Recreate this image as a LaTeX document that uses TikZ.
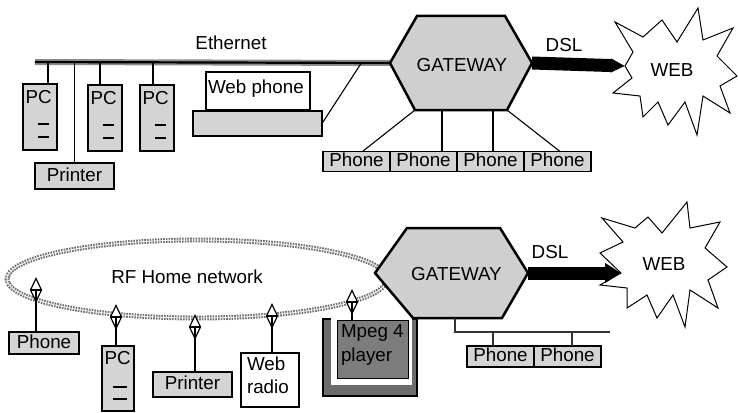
\documentclass[tikz,border=0pt]{standalone}
\usepackage{fontspec}
\setmainfont{Liberation Sans}
\usetikzlibrary{arrows.meta,shapes.geometric}
\definecolor{boxgrey}{HTML}{D4D4D4}
\definecolor{gwgrey}{HTML}{CFCFCF}
\definecolor{mpgrey}{HTML}{7C7C7C}
\definecolor{ugrey}{HTML}{6C6C6C}
\definecolor{dotgrey}{HTML}{6E6E6E}
\begin{document}
\begin{tikzpicture}[x=1pt,y=-1pt,
  font=\fontsize{18.8}{23.5}\selectfont,
  txt/.style={inner sep=0pt,outer sep=0pt},
  dev/.style={draw=black,line width=1.2pt,fill=boxgrey,inner sep=0pt,outer sep=0pt,text height=13pt,text depth=3pt},
  whitedev/.style={dev,fill=white},
  gwbox/.style={inner sep=0pt,outer sep=0pt},
  gwshape/.style={draw=black,line width=2.5pt,fill=gwgrey,line join=miter},
  wire/.style={draw=black,line width=1.1pt},
  busline/.style={draw=black!80,line width=1.4pt},
  cloud/.style={draw=black,line width=1pt,fill=white,line join=miter},
  antenna/.style={diamond,draw=black,line width=1.2pt,fill=white,inner sep=0pt,outer sep=0pt,minimum width=11pt,minimum height=23pt},
  dashbar/.style={draw=black,line width=1.5pt},
  dslbar/.style={draw=black,line width=13pt}
]
\useasboundingbox (0,0) rectangle (738,412);

% ================= TOP: Ethernet network =================
\coordinate (eth0) at (35,62);
\node[gwbox,minimum width=142,minimum height=94] (gw1) at (461,63) {};

% Ethernet bar
\draw[line width=6pt,black!45] (eth0) -- (gw1.west);
\draw[line width=2.2pt,black] (eth0) -- (gw1.west);
\node[txt,anchor=base] at (231,50) {Ethernet};

% PCs
\node[dev,minimum width=34,minimum height=66] (pc1) at (40,117) {};
\node[dev,minimum width=34,minimum height=66] (pc2) at (105,118) {};
\node[dev,minimum width=34,minimum height=66] (pc3) at (157,118) {};
\foreach \p in {pc1,pc2,pc3}{
  \node[txt,anchor=base west] at ([shift={(2.5,19.5)}]\p.north west) {PC};
  \draw[dashbar] ([shift={(-2,40)}]\p.north) -- ([shift={(9,40)}]\p.north);
  \draw[dashbar] ([shift={(-2,53)}]\p.north) -- ([shift={(9,53)}]\p.north);
}
\coordinate (d1) at ([shift={(8,0)}]pc1.north);
\coordinate (d2) at ([shift={(-5,0)}]pc2.north);
\coordinate (d3) at ([shift={(-4,0)}]pc3.north);
\draw[wire] (d1) -- (d1 |- eth0);
\draw[wire] (d2) -- (d2 |- eth0);
\draw[wire] (d3) -- (d3 |- eth0);

% Printer
\node[dev,minimum width=79,minimum height=26] (prn1) at (74.5,176) {Printer};
\draw[wire] (prn1.north) -- (prn1.north |- eth0);

% Web phone
\node[dev,minimum width=129,minimum height=25] (wpb) at (257.5,123.5) {};
\node[whitedev,minimum width=104,minimum height=38] (wph) at (258,91) {};
\node[txt,anchor=base west] at ([shift={(2,21)}]wph.north west) {Web phone};
\coordinate (wpj) at (362,62);
\draw[wire] (wpb.east) -- (wpj);

% Phones (top)
\node[dev,minimum width=67,minimum height=20] (ph1) at (356.5,161.5) {Phone};
\node[dev,minimum width=67,minimum height=20] (ph2) at (423.5,161.5) {Phone};
\node[dev,minimum width=67,minimum height=20] (ph3) at (490.5,161.5) {Phone};
\node[dev,minimum width=67,minimum height=20] (ph4) at (557.5,161.5) {Phone};
\coordinate (p2t) at ([shift={(18.5,0)}]ph2.north);
\coordinate (p3t) at ([shift={(2.5,0)}]ph3.north);
\draw[wire] ([shift={(25,0)}]gw1.south west) -- ([shift={(6,0)}]ph1.north);
\draw[wire] (p2t) -- (p2t |- gw1.south);
\draw[wire] (p3t) -- (p3t |- gw1.south);
\draw[wire] ([shift={(-25,0)}]gw1.south east) -- ([shift={(2.5,0)}]ph4.north);

% Gateway (top)
\path[gwshape] (gw1.west) -- ([shift={(27,0)}]gw1.north west) -- ([shift={(-27,0)}]gw1.north east)
  -- (gw1.east) -- ([shift={(-25,0)}]gw1.south east) -- ([shift={(25,0)}]gw1.south west) -- cycle;
\node[txt,anchor=base] at ([shift={(1,8)}]gw1.center) {GATEWAY};

% WEB cloud (top)
\coordinate (web1) at (675,70);
\begin{scope}[shift={(web1)}]
\draw[cloud] (-60,-48) -- (-32,-33) -- (-13,-50) -- (2,-28) -- (23,-62) -- (28,-30) -- (58,-42)
  -- (42,-14) -- (62,6) -- (45,16) -- (55,43) -- (28,26) -- (22,65) -- (10,32) -- (-7,55)
  -- (-17,32) -- (-32,47) -- (-35,26) -- (-62,23) -- (-43,8) -- (-50,-4) -- (-42,-18) -- cycle;
\coordinate (web1tip) at (-50,-4);
\end{scope}
\draw[dslbar,-{Triangle[length=14pt,width=13pt]}] (gw1.east) -- (web1tip);
\node[txt,anchor=base] at (564,52) {DSL};
\node[txt,anchor=base] at (672,76) {WEB};

% ================= BOTTOM: RF home network =================
\node[ellipse,inner sep=0pt,minimum width=380,minimum height=78,draw=dotgrey,line width=2pt,
      double=white,double distance=0.9pt,dash pattern=on 1.6pt off 1.1pt] (rf) at (197,279) {};
\node[txt,anchor=base] at (187,283) {RF Home network};

% Mpeg 4 player
\node[draw=black,line width=1.2pt,fill=ugrey,minimum width=94,minimum height=77,inner sep=0pt] (mpb) at (370,357.5) {};
\fill[white] ([shift={(9,-2)}]mpb.north west) rectangle ([shift={(-5.5,-12)}]mpb.south east);
\node[draw=black,line width=1.2pt,fill=mpgrey,minimum width=71,minimum height=58,inner sep=0pt] (mpeg) at (373,349.5) {};
\node[txt,anchor=base west] at (341,337) {Mpeg 4};
\node[txt,anchor=base west] at (341,361) {player};

% Gateway (bottom)
\node[gwbox,minimum width=153,minimum height=90] (gw2) at (451.5,273) {};
\path[gwshape] (gw2.west) -- ([shift={(32,0)}]gw2.north west) -- ([shift={(-28,0)}]gw2.north east)
  -- (gw2.east) -- ([shift={(-26,0)}]gw2.south east) -- ([shift={(38,0)}]gw2.south west) -- cycle;
\node[txt,anchor=base] at (456.5,280) {GATEWAY};

% WEB cloud (bottom)
\coordinate (web2) at (665,265);
\begin{scope}[shift={(web2)}]
\draw[cloud] (-63,-47) -- (-30,-37) -- (-17,-48) -- (-3,-32) -- (22,-63) -- (25,-37) -- (55,-43)
  -- (40,-17) -- (62,2) -- (43,15) -- (53,43) -- (25,25) -- (20,62) -- (8,30) -- (-8,53)
  -- (-18,30) -- (-38,43) -- (-38,23) -- (-65,20) -- (-44,8) -- (-65,-12) -- (-42,-23) -- cycle;
\coordinate (web2tip) at (-44,8);
\end{scope}
\draw[dslbar,-{Triangle[length=16pt,width=19pt]}] (gw2.east) -- (web2tip);
\node[txt,anchor=base] at (550,258) {DSL};
\node[txt,anchor=base] at (664,270) {WEB};

% Phones (bottom right)
\node[dev,minimum width=67,minimum height=21] (pb1) at (500.5,356.5) {Phone};
\node[dev,minimum width=67,minimum height=21] (pb2) at (567.5,356.5) {Phone};
\coordinate (bus0) at ([shift={(3.5,0)}]gw2.south);
\coordinate (busend) at (610,332);
\draw[busline] (bus0) |- (busend);
\coordinate (v1) at ([shift={(-7.5,0)}]pb1.north);
\coordinate (v2) at ([shift={(4.5,0)}]pb2.north);
\draw[busline] (v1) -- (v1 |- busend);
\draw[busline] (v2) -- (v2 |- busend);

% RF devices
\node[dev,minimum width=70,minimum height=22] (phL) at (44,343) {Phone};
\node[dev,minimum width=32,minimum height=65] (pcB) at (118,378.5) {};
\node[txt,anchor=base west] at ([shift={(2.5,18)}]pcB.north west) {PC};
\draw[dashbar] ([shift={(-5,41)}]pcB.north) -- ([shift={(9,41)}]pcB.north);
\draw[dashbar] ([shift={(-5,53)}]pcB.north) -- ([shift={(9,53)}]pcB.north);
\node[dev,minimum width=79,minimum height=25] (prnB) at (192.5,384.5) {Printer};
\node[whitedev,minimum width=58,minimum height=54] (radio) at (270,380) {};
\node[txt,anchor=base west] at (247,370) {Web};
\node[txt,anchor=base west] at (247,393) {radio};

% Antennas
\node[antenna] (a1) at (36,290) {};
\node[antenna] (a2) at (116,317) {};
\node[antenna] (a3) at (195,327) {};
\node[antenna] (a4) at (272,316) {};
\node[antenna] (a5) at (352,302) {};
\foreach \a/\d in {a1/phL,a2/pcB,a3/prnB,a4/radio,a5/mpeg}{
  \draw[line width=1.2pt] (\a.west) -- (\a.east);
  \draw[line width=1.6pt] (\a.center) -- (\a.center |- \d.north);
}
\end{tikzpicture}
\end{document}
